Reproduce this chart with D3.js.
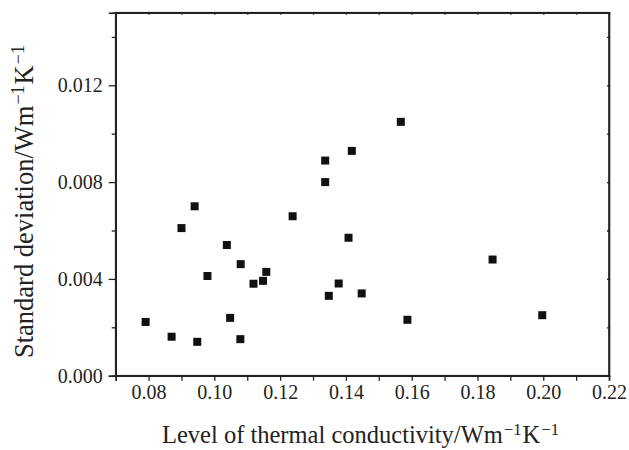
<!DOCTYPE html>
<html><head><meta charset="utf-8">
<script src="https://cdn.jsdelivr.net/npm/d3@7/dist/d3.min.js"></script>
<style>body{margin:0;background:#fff}svg{display:block}</style>
</head><body>
<script>
const xValues = [0.0791,0.0870,0.0900,0.0940,0.0948,0.0979,0.1038,0.1048,0.1079,0.1080,0.1119,0.1148,0.1158,0.1238,0.1337,0.1337,0.1348,0.1378,0.1408,0.1418,0.1448,0.1567,0.1587,0.1846,0.1997];
const yValues = [0.00222,0.00161,0.00610,0.00700,0.00140,0.00412,0.00540,0.00239,0.00151,0.00461,0.00380,0.00392,0.00429,0.00659,0.00889,0.00800,0.00330,0.00381,0.00570,0.00929,0.00340,0.01049,0.00231,0.00480,0.00250];
const xTicks = [0.08,0.10,0.12,0.14,0.16,0.18,0.20,0.22];
const xMinorTicks = [0.07,0.08,0.09,0.10,0.11,0.12,0.13,0.14,0.15,0.16,0.17,0.18,0.19,0.20,0.21,0.22];
const yTicks = [0.000,0.004,0.008,0.012];
const yMinorTicks = [0.002,0.006,0.010,0.014];

const W=629,H=450;
const m={left:115.7,right:609,top:12.7,bottom:375.7};
const svg=d3.select("body").append("svg").attr("width",W).attr("height",H);
const x=d3.scaleLinear().domain([0.07,0.22]).range([m.left,m.right]);
const y=d3.scaleLinear().domain([0,0.015]).range([m.bottom,m.top]);
const font="'Liberation Serif','Times New Roman',serif";
const col="#222";

svg.append("g").attr("transform",`translate(0,${m.bottom})`)
 .call(d3.axisBottom(x).tickValues(xMinorTicks).tickSize(5).tickPadding(4).tickFormat(d=>xTicks.some(t=>Math.abs(t-d)<1e-9)?d3.format(".2f")(d):""));
svg.append("g").attr("transform",`translate(${m.left},0)`)
 .call(d3.axisLeft(y).tickValues(yMinorTicks).tickSize(4).tickFormat(""));
svg.append("g").attr("transform",`translate(${m.left},0)`)
 .call(d3.axisLeft(y).tickValues(yTicks).tickSize(7).tickPadding(6).tickFormat(d3.format(".3f")));
svg.append("g").attr("transform",`translate(0,${m.top})`)
 .call(d3.axisBottom(x).tickValues(xMinorTicks).tickSize(2).tickFormat(""));
svg.append("g").attr("transform",`translate(${m.right},0)`)
 .call(d3.axisLeft(y).tickValues(yTicks.concat(yMinorTicks)).tickSize(2).tickFormat(""));
svg.selectAll(".domain").attr("stroke",col).attr("stroke-width",1.6);
svg.selectAll(".tick line").attr("stroke",col).attr("stroke-width",1.3);
svg.selectAll("g").attr("font-family",null).attr("font-size",null);
svg.selectAll(".tick text").style("font-family",font).style("font-size","20px").attr("fill","#222");
svg.append("rect").attr("x",m.left).attr("y",m.top).attr("width",m.right-m.left).attr("height",m.bottom-m.top)
 .attr("fill","none").attr("stroke",col).attr("stroke-width",1.6);

const s=8;
svg.append("g").selectAll("rect").data(xValues.map((v,i)=>[v,yValues[i]])).join("rect")
 .attr("x",d=>x(d[0])-s/2).attr("y",d=>y(d[1])-s/2).attr("width",s).attr("height",s).attr("fill","#111");

function title(t,base){
  t.append("tspan").text(base);
  t.append("tspan").text("Wm");
  t.append("tspan").style("font-size","0.68em").attr("dy","-0.5em").attr("dx","1").text("\u22121");
  t.append("tspan").attr("dy","0.34em").attr("dx","1").text("K");
  t.append("tspan").style("font-size","0.68em").attr("dy","-0.5em").attr("dx","1").text("\u22121");
}
const xt=svg.append("text").attr("x",162).attr("y",443).attr("text-anchor","start")
 .style("font-family",font).style("font-size","24.5px").attr("fill","#222");
title(xt,"Level of thermal conductivity/");
const yt=svg.append("text").attr("transform",`translate(33,358) rotate(-90)`).attr("text-anchor","start")
 .style("font-family",font).style("font-size","26.5px").attr("fill","#222");
title(yt,"Standard deviation/");
</script>
</body></html>
